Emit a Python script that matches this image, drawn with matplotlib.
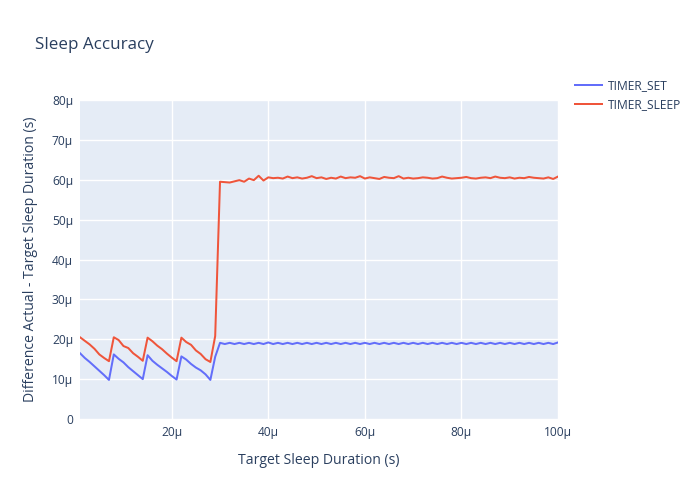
import matplotlib.pyplot as plt
from matplotlib.ticker import FuncFormatter, MultipleLocator

# Target sleep durations, in microseconds (one sample per µs)
target_us = list(range(1, 101))

# Difference actual - target, in microseconds
timer_set_us = [
    16.5, 15.3, 14.3, 13.2, 12.1, 11.0, 9.8,
    16.2, 15.1, 14.2, 13.0, 12.0, 11.0, 10.0,
    16.0, 14.6, 13.6, 12.7, 11.8, 10.8, 9.9,
    15.7, 14.9, 13.8, 12.9, 12.2, 11.2, 9.8,
    15.6,
    19.1, 18.8, 19.1, 18.8, 19.1, 18.8, 19.1, 18.8, 19.1, 18.8,
    19.2, 18.8, 19.1, 18.8, 19.1, 18.8, 19.1, 18.8, 19.1, 18.8,
    19.1, 18.8, 19.1, 18.8, 19.1, 18.8, 19.1, 18.8, 19.1, 18.8,
    19.1, 18.8, 19.1, 18.8, 19.1, 18.8, 19.1, 18.8, 19.1, 18.8,
    19.1, 18.8, 19.1, 18.8, 19.1, 18.8, 19.1, 18.8, 19.1, 18.8,
    19.1, 18.8, 19.1, 18.8, 19.1, 18.8, 19.1, 18.8, 19.1, 18.8,
    19.1, 18.8, 19.1, 18.8, 19.1, 18.8, 19.1, 18.8, 19.1, 18.8,
    19.2,
]

timer_sleep_us = [
    20.5, 19.6, 18.7, 17.6, 16.2, 15.3, 14.5,
    20.5, 19.8, 18.3, 17.8, 16.5, 15.6, 14.6,
    20.4, 19.5, 18.4, 17.5, 16.4, 15.4, 14.5,
    20.4, 19.3, 18.6, 17.2, 16.3, 15.0, 14.3,
    20.8,
    59.5, 59.4, 59.3, 59.6, 59.9, 59.5, 60.3, 59.9, 61.0, 59.8,
    60.6, 60.4, 60.5, 60.3, 60.8, 60.4, 60.6, 60.3, 60.5, 60.9,
    60.4, 60.6, 60.2, 60.5, 60.3, 60.8, 60.4, 60.6, 60.5, 60.9,
    60.3, 60.6, 60.4, 60.2, 60.7, 60.5, 60.4, 60.9, 60.3, 60.5,
    60.3, 60.4, 60.6, 60.5, 60.3, 60.4, 60.8, 60.5, 60.3, 60.4,
    60.5, 60.7, 60.4, 60.3, 60.5, 60.6, 60.4, 60.8, 60.5, 60.4,
    60.6, 60.3, 60.5, 60.4, 60.7, 60.5, 60.4, 60.3, 60.6, 60.2,
    60.8,
]

x = [v * 1e-6 for v in target_us]
y_set = [v * 1e-6 for v in timer_set_us]
y_sleep = [v * 1e-6 for v in timer_sleep_us]

plt.rcParams['font.family'] = ['Open Sans', 'DejaVu Sans']
text_color = '#2a3f5f'
px = 72 / 100  # plotly px -> points at 100 dpi

fig = plt.figure(figsize=(7, 5), dpi=100)
ax = fig.add_axes([80 / 700, 1 - 419 / 500, (558 - 80) / 700, (419 - 100) / 500])
ax.set_facecolor('#E5ECF6')

ax.plot(x, y_set, color='#636efa', lw=2 * px, label='TIMER_SET', zorder=3)
ax.plot(x, y_sleep, color='#EF553B', lw=2 * px, label='TIMER_SLEEP', zorder=3)

ax.set_xlim(1e-6, 100e-6)
ax.set_ylim(0, 80e-6)


def micro(v, pos):
    if abs(v) < 1e-12:
        return '0'
    return f"{round(v * 1e6):d}µ"


ax.xaxis.set_major_locator(MultipleLocator(20e-6))
ax.yaxis.set_major_locator(MultipleLocator(10e-6))
ax.xaxis.set_major_formatter(FuncFormatter(micro))
ax.yaxis.set_major_formatter(FuncFormatter(micro))

ax.grid(True, color='white', lw=1)
ax.set_axisbelow(True)
for s in ax.spines.values():
    s.set_visible(False)
ax.tick_params(length=0, labelsize=12 * px, colors=text_color, pad=5)

ax.set_xlabel('Target Sleep Duration (s)', fontsize=14 * px, color=text_color, labelpad=10)
ax.set_ylabel('Difference Actual - Target Sleep Duration (s)', fontsize=14 * px,
              color=text_color, labelpad=10)

fig.text(35 / 700, 1 - 45 / 500, 'Sleep Accuracy', fontsize=17 * px, color=text_color, va='center')

leg = ax.legend(loc='upper left', bbox_to_anchor=(573 / 700, 1 - 77 / 500),
                bbox_transform=fig.transFigure, frameon=False,
                fontsize=12 * px, handlelength=2.2, handletextpad=0.5, labelspacing=0.5,
                borderaxespad=0.0, borderpad=0.2)
for t in leg.get_texts():
    t.set_color(text_color)

fig.savefig('out.png', dpi=100)
